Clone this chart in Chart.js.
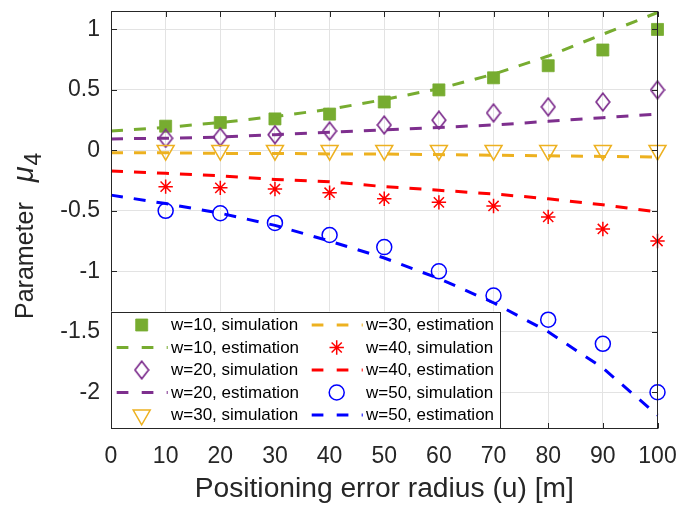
<!DOCTYPE html>
<html>
<head>
<meta charset="utf-8">
<script src="https://cdn.jsdelivr.net/npm/chart.js@4.4.1/dist/chart.umd.min.js"></script>
<style>
html,body{margin:0;padding:0;background:#ffffff;}
#wrap{width:678px;height:511px;position:relative;}
canvas{display:block;}
</style>
</head>
<body>
<div id="wrap"><canvas id="c" width="678" height="511"></canvas></div>
<script>
// ---------------- data ----------------
const estX = [0, 10, 20, 30, 40, 50, 60, 70, 80, 90, 100];
const simX = [10, 20, 30, 40, 50, 60, 70, 80, 90, 100];

const w10Sim = [0.20, 0.23, 0.26, 0.30, 0.40, 0.50, 0.60, 0.70, 0.83, 1.00];
const w10Est = [0.16, 0.19, 0.23, 0.28, 0.34, 0.42, 0.51, 0.63, 0.78, 0.96, 1.14];
const w20Sim = [0.10, 0.11, 0.13, 0.16, 0.21, 0.25, 0.31, 0.36, 0.40, 0.50];
const w20Est = [0.095, 0.10, 0.11, 0.13, 0.15, 0.17, 0.19, 0.21, 0.24, 0.27, 0.30];
const w30Sim = [0, 0, 0, 0, 0, 0, 0, 0, 0, 0];
const w30Est = [-0.02, -0.02, -0.025, -0.025, -0.03, -0.03, -0.035, -0.04, -0.045, -0.05, -0.055];
const w40Sim = [-0.30, -0.31, -0.32, -0.35, -0.40, -0.43, -0.46, -0.55, -0.65, -0.75];
const w40Est = [-0.17, -0.19, -0.21, -0.24, -0.26, -0.30, -0.33, -0.36, -0.40, -0.45, -0.51];
const w50Sim = [-0.50, -0.52, -0.60, -0.70, -0.80, -1.00, -1.20, -1.40, -1.60, -2.00];
const w50Est = [-0.37, -0.44, -0.52, -0.62, -0.75, -0.89, -1.06, -1.26, -1.50, -1.80, -2.19];

const seriesLabels = [
  'w=10, simulation', 'w=10, estimation',
  'w=20, simulation', 'w=20, estimation',
  'w=30, simulation', 'w=30, estimation',
  'w=40, simulation', 'w=40, estimation',
  'w=50, simulation', 'w=50, estimation'
];
const xTitle = 'Positioning error radius (u) [m]';
const yTitleMain = 'Parameter';
const yTitleSymbol = '\u03BC';
const yTitleSub = '4';

// ---------------- styles ----------------
const FONT = '"Liberation Sans", Arial, Helvetica, sans-serif';
const AXIS_COLOR = '#262626';
const GREEN = '#77AC30', PURPLE = '#7E2F8E', YELLOW = '#EDB120', RED = '#FF0000', BLUE = '#0000FF';

function diamondCanvas(color) {
  const c = document.createElement('canvas');
  c.width = 16; c.height = 20;
  const g = c.getContext('2d');
  g.strokeStyle = color; g.lineWidth = 1.7;
  g.beginPath();
  g.moveTo(8, 1.2); g.lineTo(14.8, 10); g.lineTo(8, 18.8); g.lineTo(1.2, 10); g.closePath();
  g.stroke();
  return c;
}
const diamond = diamondCanvas(PURPLE);

function pts(xs, ys) { return xs.map((x, i) => ({x: x, y: ys[i]})); }

function simSet(label, xs, ys, color, style) {
  return Object.assign({
    label: label, data: pts(xs, ys), showLine: false, clip: false,
    borderColor: color, pointBorderColor: color, backgroundColor: 'rgba(0,0,0,0)',
    pointBackgroundColor: 'rgba(0,0,0,0)', pointBorderWidth: 1.5, pointHoverRadius: 0
  }, style);
}
function estSet(label, xs, ys, color) {
  return {
    label: label, data: pts(xs, ys), showLine: true, clip: false,
    borderColor: color, backgroundColor: color, borderWidth: 3,
    borderDash: [12, 11], borderCapStyle: 'butt', pointRadius: 0, pointHoverRadius: 0,
    tension: 0, fill: false
  };
}

const datasets = [
  simSet(seriesLabels[0], simX, w10Sim, GREEN, {pointStyle: 'rect', pointRadius: 8.5, pointBackgroundColor: GREEN, pointBorderWidth: 0.8}),
  estSet(seriesLabels[1], estX, w10Est, GREEN),
  simSet(seriesLabels[2], simX, w20Sim, PURPLE, {pointStyle: diamond, pointRadius: 9}),
  estSet(seriesLabels[3], estX, w20Est, PURPLE),
  simSet(seriesLabels[4], simX, w30Sim, YELLOW, {pointStyle: 'triangle', pointRotation: 180, pointRadius: 9.8}),
  estSet(seriesLabels[5], estX, w30Est, YELLOW),
  simSet(seriesLabels[6], simX, w40Sim, RED, {pointStyle: 'star', pointRadius: 7.2}),
  estSet(seriesLabels[7], estX, w40Est, RED),
  simSet(seriesLabels[8], simX, w50Sim, BLUE, {pointStyle: 'circle', pointRadius: 7.5}),
  estSet(seriesLabels[9], estX, w50Est, BLUE)
];
// later series drawn on top (like MATLAB)
datasets.forEach((d, i) => { d.order = datasets.length - i; });

// ---------------- plugins ----------------
function drawMarker(ctx, ds, x, y) {
  const opts = {
    pointStyle: ds.pointStyle, rotation: ds.pointRotation || 0,
    radius: ds.pointRadius, borderWidth: ds.pointBorderWidth
  };
  ctx.save();
  ctx.strokeStyle = ds.pointBorderColor;
  ctx.fillStyle = ds.pointBackgroundColor;
  ctx.lineWidth = ds.pointBorderWidth;
  Chart.helpers.drawPoint(ctx, opts, x, y);
  ctx.restore();
}

const frameAndTicks = {
  id: 'frameAndTicks',
  afterDatasetsDraw(chart) {
    const {ctx, chartArea: a, scales} = chart;
    ctx.save();
    ctx.strokeStyle = AXIS_COLOR;
    ctx.lineWidth = 1;
    const L = Math.round(a.left) + 0.5, R = Math.round(a.right) - 0.5;
    const T = Math.round(a.top) + 0.5, B = Math.round(a.bottom) - 0.5;
    ctx.beginPath();
    scales.x.ticks.forEach(t => {
      const px = Math.round(scales.x.getPixelForValue(t.value)) + 0.5;
      ctx.moveTo(px, B); ctx.lineTo(px, B - 5.5);
      ctx.moveTo(px, T); ctx.lineTo(px, T + 5.5);
    });
    scales.y.ticks.forEach(t => {
      const py = Math.round(scales.y.getPixelForValue(t.value)) + 0.5;
      ctx.moveTo(L, py); ctx.lineTo(L + 5.5, py);
      ctx.moveTo(R, py); ctx.lineTo(R - 5.5, py);
    });
    ctx.stroke();
    ctx.strokeRect(L, T, R - L, B - T);
    ctx.restore();
  }
};

const boxLegend = {
  id: 'boxLegend',
  afterDraw(chart) {
    const {ctx, chartArea: a} = chart;
    const ds = chart.data.datasets;
    const boxL = a.left, boxR = a.left + 390, boxB = a.bottom, boxT = a.bottom - 117;
    ctx.save();
    ctx.fillStyle = '#ffffff';
    ctx.fillRect(boxL, boxT, boxR - boxL, boxB - boxT);
    ctx.strokeStyle = AXIS_COLOR; ctx.lineWidth = 1;
    ctx.strokeRect(Math.round(boxL) + 0.5, Math.round(boxT) + 0.5, Math.round(boxR - boxL) - 1, Math.round(boxB - boxT) - 1);
    const cols = [{line: 5.7, mark: 30.7, text: 60}, {line: 200.7, mark: 225.7, text: 255}];
    ctx.font = '17px ' + FONT;
    ctx.textBaseline = 'middle';
    ctx.textAlign = 'left';
    ds.forEach((d, i) => {
      const col = cols[Math.floor(i / 5)];
      const y = boxT + 13.5 + (i % 5) * 22.5;
      if (d.showLine) {
        ctx.save();
        ctx.strokeStyle = d.borderColor; ctx.lineWidth = 3;
        ctx.setLineDash([11.7, 13.3]); ctx.lineCap = 'butt';
        ctx.beginPath();
        ctx.moveTo(boxL + col.line, y); ctx.lineTo(boxL + col.line + 51, y);
        ctx.stroke();
        ctx.restore();
      } else {
        drawMarker(ctx, d, boxL + col.mark, y);
      }
      ctx.fillStyle = '#000000';
      ctx.fillText(d.label, boxL + col.text, y + 0.5);
    });
    ctx.restore();
  }
};

const yTitle = {
  id: 'yTitle',
  afterDraw(chart) {
    const {ctx} = chart;
    ctx.save();
    const fMain = '25px ' + FONT, fSym = 'italic 29px ' + FONT, fSub = '23px ' + FONT;
    ctx.font = fMain; const w1 = ctx.measureText(yTitleMain).width;
    ctx.font = fSym; const w2 = ctx.measureText(yTitleSymbol).width;
    const gap = 20;
    const startY = 319;
    ctx.translate(33, startY);
    ctx.rotate(-Math.PI / 2);
    ctx.fillStyle = AXIS_COLOR;
    ctx.textBaseline = 'alphabetic';
    ctx.textAlign = 'left';
    let x = 0;
    ctx.font = fMain; ctx.fillText(yTitleMain, x, 0); x += w1 + gap;
    ctx.font = fSym; ctx.fillText(yTitleSymbol, x, 0); x += w2 + 1;
    ctx.font = fSub; ctx.fillText(yTitleSub, x, 8);
    ctx.restore();
  }
};

// ---------------- chart ----------------
new Chart(document.getElementById('c'), {
  type: 'line',
  data: {datasets: datasets},
  plugins: [frameAndTicks, boxLegend, yTitle],
  options: {
    responsive: false, maintainAspectRatio: false, animation: false, devicePixelRatio: 1,
    layout: {padding: {left: 0, right: 20.5, top: 5, bottom: 0}},
    plugins: {legend: {display: false}, tooltip: {enabled: false}},
    events: [],
    scales: {
      x: {
        type: 'linear', min: 0, max: 100,
        ticks: {stepSize: 10, autoSkip: false, maxRotation: 0, color: AXIS_COLOR, padding: 14,
                font: {family: FONT, size: 23}},
        grid: {color: '#e3e3e3', lineWidth: 1, drawTicks: false},
        border: {display: false},
        title: {display: true, text: xTitle, color: AXIS_COLOR, font: {family: FONT, size: 28.2},
                padding: {top: 0, bottom: 5}},
        afterFit(s) { s.height = 82.5; s.paddingLeft = 0; s.paddingRight = 0; }
      },
      y: {
        type: 'linear', min: -2.3, max: 1.15,
        ticks: {stepSize: 0.5, includeBounds: false, color: AXIS_COLOR, padding: 11,
                font: {family: FONT, size: 23},
                callback: v => String(Math.round(v * 10) / 10)},
        grid: {color: '#e3e3e3', lineWidth: 1, drawTicks: false},
        border: {display: false},
        afterFit(s) { s.width = 111; s.paddingTop = 0; s.paddingBottom = 0; }
      }
    }
  }
});
</script>
</body>
</html>
